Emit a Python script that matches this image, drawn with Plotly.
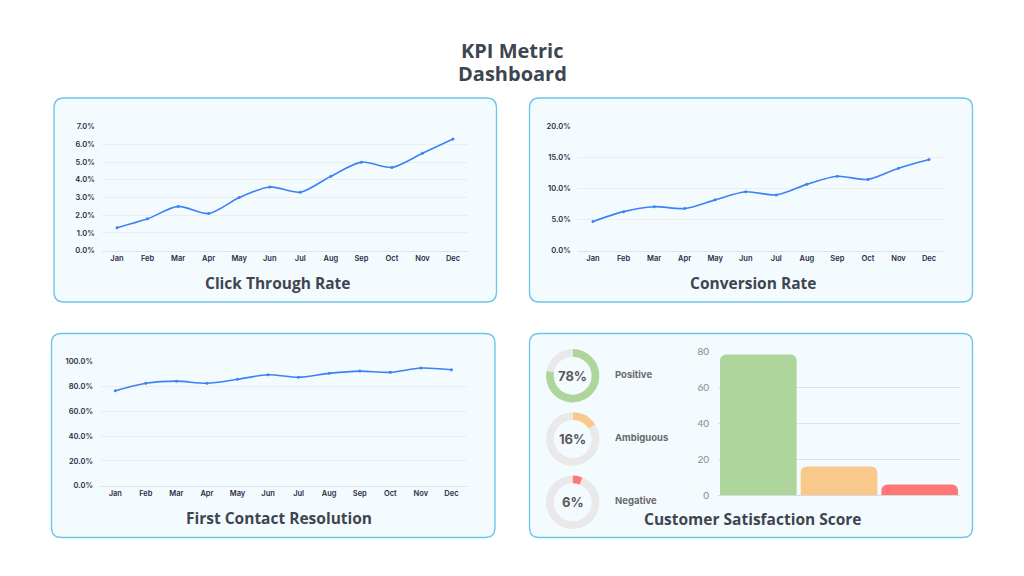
import plotly.graph_objects as go

W, H = 1024, 576

# ---------------- data ----------------
months = ["Jan", "Feb", "Mar", "Apr", "May", "Jun", "Jul", "Aug", "Sep", "Oct", "Nov", "Dec"]
click_through_rate = [1.3, 1.8, 2.5, 2.1, 3.0, 3.6, 3.3, 4.2, 5.0, 4.7, 5.5, 6.3]
conversion_rate = [4.7, 6.3, 7.1, 6.8, 8.2, 9.5, 9.0, 10.7, 12.0, 11.5, 13.3, 14.7]
first_contact_resolution = [76.6, 82.6, 84.3, 82.6, 85.8, 89.5, 87.4, 90.6, 92.4, 91.4, 94.9, 93.5]
csat_labels = ["Positive", "Ambiguous", "Negative"]
csat_values = [78, 16, 6]

title_lines = ["KPI Metric", "Dashboard"]
subtitles = ["Click Through Rate", "Conversion Rate", "First Contact Resolution", "Customer Satisfaction Score"]

# ---------------- style ----------------
LINE_BLUE = "#3b82f6"
CSAT_COLORS = ["#aed59b", "#f8c98b", "#fe7676"]
RING_GRAY = "#e9e9e9"
PANEL_BORDER = "#6cc4e6"
PANEL_FILL = "#f4fbfe"
TEXT_DARK = "#3e4550"
TICK_DARK = "#2b2c45"


def px_x(p):
    return p / W


def px_y(p):
    return 1 - p / H


def dom_x(a, b):
    return [px_x(a), px_x(b)]


def dom_y(top, bottom):
    return [px_y(bottom), px_y(top)]


def rounded_rect(x0, y0, x1, y1, r=10):
    rx, ry = r / W, r / H
    X0, X1 = px_x(x0), px_x(x1)
    Y0, Y1 = px_y(y0), px_y(y1)  # Y0 top, Y1 bottom (paper)
    return (f"M {X0+rx},{Y0} L {X1-rx},{Y0} Q {X1},{Y0} {X1},{Y0-ry} "
            f"L {X1},{Y1+ry} Q {X1},{Y1} {X1-rx},{Y1} "
            f"L {X0+rx},{Y1} Q {X0},{Y1} {X0},{Y1+ry} "
            f"L {X0},{Y0-ry} Q {X0},{Y0} {X0+rx},{Y0} Z")


fig = go.Figure()

# panels
panels = [(54, 98, 496.5, 302), (529.5, 98, 972.5, 302),
          (51.5, 333.5, 495, 537.5), (529.5, 333.5, 972.5, 537.5)]
for (a, b, c, d) in panels:
    fig.add_shape(type="path", path=rounded_rect(a, b, c, d, 10), xref="paper", yref="paper",
                  line=dict(color=PANEL_BORDER, width=1.3), fillcolor=PANEL_FILL, layer="below")

tickfont = dict(family="Inter", size=7.5, color=TICK_DARK, weight=600)

line_specs = [
    (click_through_rate, "x", "y", dom_x(101.7, 468.3), dom_y(126.7, 250.7), [0, 7], 1),
    (conversion_rate, "x2", "y2", dom_x(577.7, 944.3), dom_y(126.7, 250.7), [0, 20], 5),
    (first_contact_resolution, "x3", "y3", dom_x(100, 466.7), dom_y(361.7, 485.7), [0, 100], 20),
]

for i, (vals, xa, ya, dx, dy, yr, dt) in enumerate(line_specs):
    fig.add_trace(go.Scatter(x=months, y=vals, xaxis=xa, yaxis=ya, mode="lines+markers",
                             line=dict(color=LINE_BLUE, width=1.6, shape="spline", smoothing=0.8),
                             marker=dict(size=3, color=LINE_BLUE), showlegend=False,
                             hoverinfo="x+y"))
    xname = "xaxis" if i == 0 else f"xaxis{i+1}"
    yname = "yaxis" if i == 0 else f"yaxis{i+1}"
    fig.layout[xname] = dict(domain=dx, anchor=ya, type="category", range=[-0.5, 11.5],
                             showgrid=False, showline=True, linecolor="#dfe4ea", linewidth=1,
                             ticks="", tickfont=tickfont, zeroline=False, fixedrange=True,
                             automargin=False)
    fig.layout[yname] = dict(domain=dy, anchor=xa, range=yr, dtick=dt, tick0=0,
                             tickformat=".1f", ticksuffix="%", showgrid=True,
                             gridcolor="#e9eef3", gridwidth=1, zeroline=False, showline=False,
                             ticks="", tickfont=tickfont, ticklabelstandoff=6, fixedrange=True,
                             automargin=False)

# bar chart
fig.add_trace(go.Bar(x=csat_labels, y=csat_values, xaxis="x4", yaxis="y4",
                     marker=dict(color=CSAT_COLORS, line=dict(width=0), cornerradius=6),
                     showlegend=False, hoverinfo="x+y"))
fig.layout["xaxis4"] = dict(domain=dom_x(718, 960), anchor="y4", showticklabels=False,
                            showgrid=False, showline=True, linecolor="#d6dbe0", ticks="",
                            fixedrange=True, automargin=False)
fig.layout["yaxis4"] = dict(domain=dom_y(351, 495.3), anchor="x4", range=[0, 80], dtick=20,
                            showgrid=True, gridcolor="#dde3e8", zeroline=False, ticks="",
                            tickfont=dict(family="Lato", size=10, color="#8a8a8a"),
                            ticklabelstandoff=8, fixedrange=True, automargin=False)
fig.update_layout(bargap=0.05)

# donuts
donut_centers = [375.7, 439.0, 502.3]
R = 26.7
for lab, val, col, cy in zip(csat_labels, csat_values, CSAT_COLORS, donut_centers):
    cx = 572.7
    fig.add_trace(go.Pie(values=[val, 100 - val], labels=[lab, "Other"], sort=False,
                         direction="clockwise", rotation=0, hole=0.71,
                         marker=dict(colors=[col, RING_GRAY], line=dict(width=0)),
                         textinfo="none", showlegend=False, hoverinfo="label+value",
                         automargin=False,
                         domain=dict(x=dom_x(cx - R, cx + R), y=dom_y(cy - R, cy + R))))
    fig.add_annotation(x=px_x(cx), y=px_y(cy), xref="paper", yref="paper", text=f"{val}%",
                       xanchor="center", yanchor="middle", showarrow=False,
                       font=dict(family="Inter", size=13, color="#5a5a5a", weight=700))
    fig.add_annotation(x=px_x(612.5), y=px_y(cy - 1), xref="paper", yref="paper", text=lab,
                       xanchor="left", yanchor="middle", showarrow=False,
                       font=dict(family="Inter", size=9.5, color="#6a6a6a", weight=700))

# subtitles
sub_pos = [(277, 282.5), (753, 282.5), (279, 517.5), (753, 519)]
for t, (sx, sy) in zip(subtitles, sub_pos):
    fig.add_annotation(x=px_x(sx), y=px_y(sy), xref="paper", yref="paper", text=t,
                       xanchor="center", yanchor="middle", showarrow=False,
                       font=dict(family="Open Sans", size=15.5, color=TEXT_DARK, weight=700))

# main title (two lines)
for line, ty in zip(title_lines, [50, 73]):
    fig.add_annotation(x=0.5, y=px_y(ty), xref="paper", yref="paper", text=line, showarrow=False,
                       xanchor="center", yanchor="middle",
                       font=dict(family="Open Sans", size=20, color=TEXT_DARK, weight=700))

fig.update_layout(width=W, height=H, margin=dict(l=0, r=0, t=0, b=0, pad=0, autoexpand=False),
                  paper_bgcolor="white", plot_bgcolor="rgba(0,0,0,0)", showlegend=False)

post = ("document.documentElement.style.margin='0';document.documentElement.style.overflow='hidden';"
        "document.body.style.margin='0';document.body.style.overflow='hidden';"
        "var d=document.querySelector('.plotly-graph-div');"
        "d.style.position='fixed';d.style.top='0px';d.style.left='0px';")
fig.write_html("out.html", config={"displayModeBar": False}, post_script=post)
